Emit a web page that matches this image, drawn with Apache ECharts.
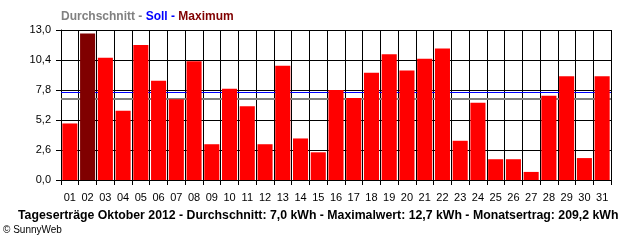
<!DOCTYPE html>
<html><head><meta charset="utf-8">
<script src="https://cdn.jsdelivr.net/npm/echarts@6/dist/echarts.min.js"></script>
<style>html,body{margin:0;padding:0;background:#fff}#c{width:640px;height:240px}</style>
</head><body><div id="c"></div>
<script>
const days = ['01','02','03','04','05','06','07','08','09','10','11','12','13','14','15','16','17','18','19','20','21','22','23','24','25','26','27','28','29','30','31'];
const yields = [4.9,12.7,10.6,6.0,11.7,8.6,7.0,10.3,3.1,7.9,6.4,3.1,9.9,3.6,2.4,7.8,7.1,9.3,10.9,9.5,10.5,11.4,3.4,6.7,1.8,1.8,0.7,7.3,9.0,1.9,9.0];
const average = 7.0;
const target = 7.6;
const yTicks = [0, 2.6, 5.2, 7.8, 10.4, 13.0];
const legendText = ['Durchschnitt - ', 'Soll - ', 'Maximum'];
const footer = 'Tageserträge Oktober 2012 - Durchschnitt: 7,0 kWh - Maximalwert: 12,7 kWh - Monatsertrag: 209,2 kWh';
const copyright = '© SunnyWeb';

const maxVal = Math.max(...yields);
const chart = echarts.init(document.getElementById('c'), null, {renderer:'canvas'});
const font = 'Liberation Sans, Arial, sans-serif';
chart.setOption({
  animation: false,
  backgroundColor: '#fff',
  grid: {left: 61, right: 29, top: 30, bottom: 60, containLabel: false},
  title: {
    left: 61, top: 11, padding: 0,
    text: '{a|' + legendText[0] + '}{b|' + legendText[1] + '}{c|' + legendText[2] + '}',
    textStyle: {rich: {
      a: {color: '#808080', fontWeight: 'bold', fontSize: 12, fontFamily: font},
      b: {color: '#0000ff', fontWeight: 'bold', fontSize: 12, fontFamily: font},
      c: {color: '#800000', fontWeight: 'bold', fontSize: 12, fontFamily: font}
    }}
  },
  xAxis: {
    type: 'category', data: days, boundaryGap: true,
    axisLine: {lineStyle: {color: '#000', width: 1}},
    axisTick: {show: true, length: 5, lineStyle: {color: '#000'}},
    splitLine: {show: true, lineStyle: {color: '#000', width: 1}},
    axisLabel: {color: '#000', fontSize: 11, fontFamily: font, margin: 12, interval: 0}
  },
  yAxis: {
    type: 'value', min: 0, max: 13, interval: 2.6,
    axisLine: {show: true, lineStyle: {color: '#000'}},
    axisTick: {show: true, length: 5, lineStyle: {color: '#000'}},
    splitLine: {show: true, lineStyle: {color: '#000', width: 1}},
    axisLabel: {color: '#000', fontSize: 11, fontFamily: font, margin: 10,
      formatter: v => (Math.round(v*10)/10).toFixed(1).replace('.', ',')}
  },
  series: [{
    type: 'bar', barCategoryGap: '15%', z: 2,
    data: yields.map(v => ({value: v, itemStyle: {color: v === maxVal ? '#800000' : '#ff0000'}})),
    markLine: {
      silent: true, symbol: 'none', label: {show: false}, z: 1,
      data: [
        {yAxis: target, lineStyle: {color: '#0000ff', width: 1, type: 'solid'}},
        {yAxis: average, lineStyle: {color: '#808080', width: 2, type: 'solid'}}
      ]
    }
  }],
  graphic: [
    {type: 'text', left: 18, top: 210, style: {text: footer, fill: '#000', font: 'bold 12.3px ' + font}},
    {type: 'text', left: 3, top: 225, style: {text: copyright, fill: '#000', font: '10px ' + font}}
  ]
});
</script></body></html>
